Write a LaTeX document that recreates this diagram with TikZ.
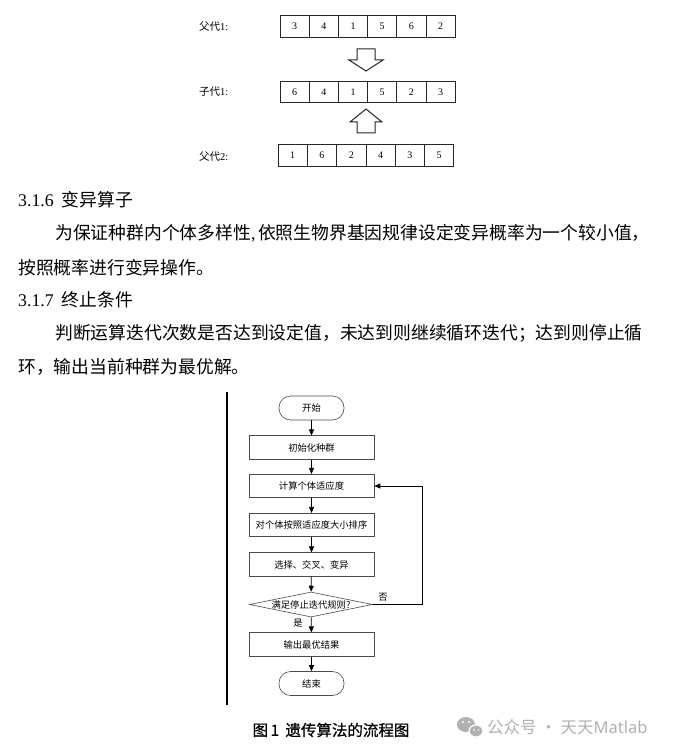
\documentclass[tikz,border=0pt]{standalone}
\usepackage{fontspec}
\setmainfont{Liberation Serif}
\newfontfamily\cjk{Noto Sans CJK SC}
\newfontfamily\cjkcap[FakeBold=0.6]{Noto Sans CJK SC}
\newfontfamily\wmsans{Noto Sans}
\usetikzlibrary{arrows.meta,shapes.geometric}
\newcommand\myfs[1]{\fontsize{#1}{#1}\selectfont}
\begin{document}
\begin{tikzpicture}[x=1pt,y=-1pt,
  cell/.style={draw=black!85, line width=0.7pt, minimum width=29.2pt, minimum height=21.5pt, inner sep=0pt, font=\myfs{10}},
  rowlabel/.style={anchor=west, inner sep=0pt, font=\myfs{10.5}},
  harrow/.style={draw=black!85, line width=1pt, fill=white, line join=miter},
  para/.style={anchor=west, inner sep=0pt, font=\myfs{17.8}},
  box/.style={draw=black!70, line width=0.6pt, minimum width=125pt, minimum height=23.5pt, inner sep=0pt, font=\cjk\myfs{9.3}},
  term/.style={box, rounded corners=11.5pt, minimum width=65pt, minimum height=24pt},
  dec/.style={draw=black!70, line width=0.6pt, diamond, aspect=4.9, minimum width=123pt, minimum height=25pt, inner sep=0pt, font=\cjk\myfs{9.3}},
  arr/.style={-{Triangle[length=6pt,width=5pt]}, line width=0.7pt, black},
  lab/.style={inner sep=0pt, font=\cjk\myfs{9.3}},
]
\useasboundingbox[fill=white] (0,0) rectangle (683,751);

% ---- chromosome rows ----
\foreach \v [count=\i] in {3,4,1,5,6,2}
  \node[cell] (ra\i) at ({280+29.2*(\i-0.5)}, 26.5) {\v};
\foreach \v [count=\i] in {6,4,1,5,2,3}
  \node[cell] (rb\i) at ({280+29.2*(\i-0.5)}, 92) {\v};
\foreach \v [count=\i] in {1,6,2,4,3,5}
  \node[cell] (rc\i) at ({278+29.3*(\i-0.5)}, 155.5) {\v};

\node[rowlabel] (la) at (199,27) {{\cjk 父代}1:};
\node[rowlabel] (lb) at (199,92) {{\cjk 子代}1:};
\node[rowlabel] (lc) at (199,157) {{\cjk 父代}2:};

% hollow arrows
\draw[harrow] (357,49) -- (375,49) -- (375,60) -- (383,60) -- (366,71) -- (349,60) -- (357,60) -- cycle;
\draw[harrow] (357,133) -- (375,133) -- (375,122) -- (382,122) -- (366,109) -- (350,122) -- (357,122) -- cycle;

% ---- text ----
\node[para] (h1) at (18,200) {3.1.6\hspace{0.45em}{\cjk 变异算子}};
\node[para] (p1) at (55,233) {{\cjk 为保证种群内个体多样性},\hspace{0.15em}{\cjk 依照生物界基因规律设定变异概率为一个较小值，}};
\node[para] (p2) at (18,268) {{\cjk 按照概率进行变异操作。}};
\node[para] (h2) at (18,300) {3.1.7\hspace{0.45em}{\cjk 终止条件}};
\node[para] (p3) at (55,333) {{\cjk 判断运算迭代次数是否达到设定值，未达到则继续循环迭代；达到则停止循}};
\node[para] (p4) at (18,367) {{\cjk 环，输出当前种群为最优解。}};

% ---- flowchart ----
\coordinate (vt) at (227,392);
\coordinate (vb) at (227,705);
\draw[line width=2.2pt] (vt) -- (vb);

\node[term] (start) at (311.5,408) {开始};
\node[box] (init) at (311.5,447.5) {初始化种群};
\node[box] (fit) at (311.5,486) {计算个体适应度};
\node[box] (sort) at (311.5,525) {对个体按照适应度大小排序};
\node[box] (sel) at (311.5,564.5) {选择、交叉、变异};
\node[dec] (cond) at (311,604.5) {\makebox[0pt]{满足停止迭代规则?}};
\node[box] (out) at (311.5,644.5) {输出最优结果};
\node[term] (fin) at (311.5,683.5) {结束};

\draw[arr] (start) -- (init);
\draw[arr] (init) -- (fit);
\draw[arr] (fit) -- (sort);
\draw[arr] (sort) -- (sel);
\draw[arr] (sel) -- (cond);
\draw[arr] (cond) -- (out);
\draw[arr] (out) -- (fin);
\coordinate (c1) at (422,604.5);
\coordinate (c2) at (422,486);
\draw[arr] (cond.east) -- (c1) -- (c2) -- (fit.east);

\node[lab] (no) at (383,597) {否};
\node[lab] (yes) at (298,623.5) {是};

% caption
\node[inner sep=0pt, font=\cjkcap\myfs{15.5}] (cap) at (331,730) {图\,1\hspace{0.4em}遗传算法的流程图};

% watermark
\fill[black!30] (466,724.5) ellipse (9 and 7.5);
\draw[white, line width=1.2pt, fill=black!30] (476,731) ellipse (7 and 6);
\fill[white] (463,722) circle (1.1) (469,722) circle (1.1) (474,730) circle (0.9) (478.5,730) circle (0.9);
\node[anchor=west, inner sep=0pt, text=black!30, font=\cjk\myfs{16.5}] (wm) at (487,727) {公众号 · 天天{\wmsans Matlab}};
\end{tikzpicture}
\end{document}
